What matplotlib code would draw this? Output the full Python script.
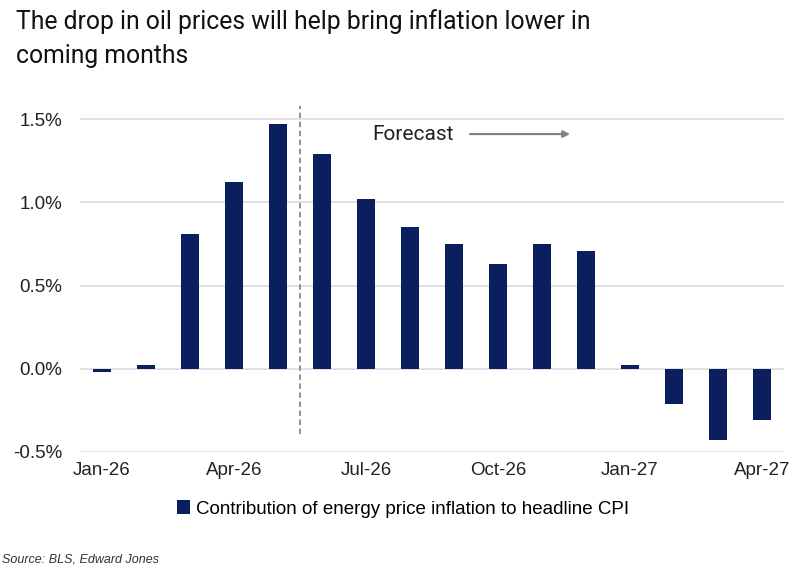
import matplotlib
matplotlib.use("Agg")
import matplotlib.pyplot as plt
import numpy as np

months = ["Jan-26", "Feb-26", "Mar-26", "Apr-26", "May-26", "Jun-26", "Jul-26", "Aug-26",
          "Sep-26", "Oct-26", "Nov-26", "Dec-26", "Jan-27", "Feb-27", "Mar-27", "Apr-27"]
energy_contrib = [-0.02, 0.02, 0.81, 1.12, 1.47, 1.29, 1.02, 0.85,
                  0.75, 0.63, 0.75, 0.71, 0.02, -0.21, -0.43, -0.31]
shown_ticks = ["Jan-26", "Apr-26", "Jul-26", "Oct-26", "Jan-27", "Apr-27"]
y_ticks = [-0.5, 0.0, 0.5, 1.0, 1.5]
forecast_start = 4.5  # between May-26 and Jun-26

plt.rcParams['font.family'] = ['Liberation Sans', 'DejaVu Sans']
navy = "#0b1f5e"

fig = plt.figure(figsize=(8.07, 5.73), dpi=100)
ax = fig.add_axes([80 / 807, 0.2112, 704 / 807, 0.610])

x = np.arange(len(months))
ax.bar(x, energy_contrib, width=0.4, color=navy, zorder=3,
       label="Contribution of energy price inflation to headline CPI")

ax.set_xlim(-0.5, len(months) - 0.5)
ax.set_ylim(-0.5, 1.6)
ax.set_yticks(y_ticks)
ax.set_yticklabels(["{:.1f}%".format(v) for v in y_ticks])
ax.set_xticks([months.index(m) for m in shown_ticks])
ax.set_xticklabels(shown_ticks)
ax.tick_params(length=0, labelsize=13.5, colors="#222222")
ax.tick_params(axis="y", pad=13)
ax.tick_params(axis="x", pad=7)
ax.grid(axis="y", color="#dcdcdc", lw=1.2, zorder=0)
for s in ax.spines.values():
    s.set_visible(False)

# forecast divider + label
ax.plot([forecast_start, forecast_start], [-0.39, 1.58], ls=(0, (3, 2)),
        color="#8a8a8a", lw=1.3, zorder=4, clip_on=False)
ax.text(6.14, 1.41, "Forecast", fontsize=15, va="center", ha="left",
        color="#222222", family=["Roboto", "DejaVu Sans"])
ax.annotate("", xy=(10.7, 1.41), xytext=(8.3, 1.41),
            arrowprops=dict(arrowstyle="-|>", color="#7f7f7f", lw=1.5,
                            mutation_scale=10))

fig.legend(loc="center", bbox_to_anchor=(403 / 807, 1 - 509 / 573), frameon=False,
           fontsize=13.5, handlelength=0.7, handleheight=0.7, handletextpad=0.3)

fig.text(16 / 807, 1 - 9 / 573,
         "The drop in oil prices will help bring inflation lower in\ncoming months",
         fontsize=17.8, va="top", ha="left", color="#111111", linespacing=1.55,
         family=["Roboto", "DejaVu Sans"])
fig.text(0.002, 1 - 560 / 573, "Source: BLS, Edward Jones", fontsize=9,
         style="italic", va="center", ha="left", color="#333333")

fig.savefig("out.png", dpi=100)
